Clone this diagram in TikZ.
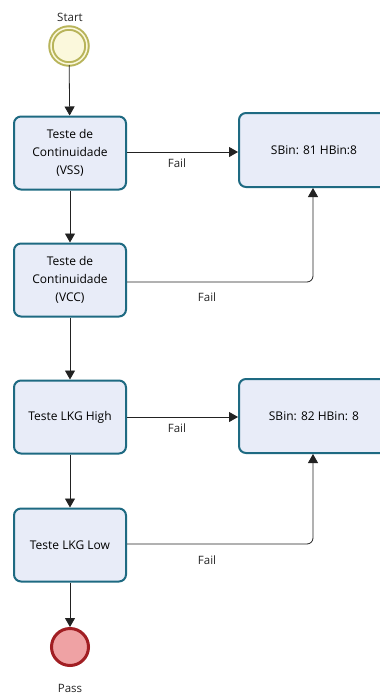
\documentclass[tikz,border=0pt]{standalone}
\usepackage{fontspec}
\setmainfont{Open Sans}
\usetikzlibrary{arrows.meta}
\definecolor{taskfill}{HTML}{E8ECF8}
\definecolor{taskline}{HTML}{1E6A82}
\definecolor{startfill}{HTML}{FBF8DC}
\definecolor{startline}{HTML}{B8B45A}
\definecolor{endfill}{HTML}{EFA2A4}
\definecolor{endline}{HTML}{A11E23}
\definecolor{flow}{HTML}{222222}
\begin{document}
\begin{tikzpicture}[x=1pt,y=-1pt,
  task/.style={draw=taskline,fill=taskfill,line width=2pt,rounded corners=7pt,
    minimum width=112pt,minimum height=73pt,align=center,font=\fontsize{12}{18}\selectfont,
    inner sep=0pt},
  bin/.style={task,minimum width=150pt,minimum height=74pt},
  flowline/.style={draw=flow,line width=0.8pt,-{Triangle[length=9pt,width=10pt]}},
  lbl/.style={font=\fontsize{11.5}{13}\selectfont,text=black!85}]
\useasboundingbox (0,0) rectangle (380,697);
\clip (0,0) rectangle (380,697);
\fill[white] (0,0) rectangle (380,697);

% start and end events
\node[circle,draw=startline,fill=startfill,line width=2pt,minimum size=36pt,inner sep=0pt,
  double=startfill,double distance=1.5pt] (start) at (69,46) {};
\node[lbl] (startlbl) at (70,17) {Start};
\node[circle,draw=endline,fill=endfill,line width=3pt,minimum size=37pt,inner sep=0pt] (pass) at (70,647) {};
\node[lbl] (passlbl) at (70,688) {Pass};

% tasks
\node[task] (vss) at (70,153) {Teste de\\Continuidade\\(VSS)};
\node[task] (vcc) at (70,280) {Teste de\\Continuidade\\(VCC)};
\node[task] (high) at (70,417) {Teste LKG High};
\node[task] (low) at (70,545) {Teste LKG Low};
\node[bin,anchor=west] (bin81) at (238,150) {SBin: 81 HBin:8};
\node[bin,anchor=west] (bin82) at (238,416) {SBin: 82 HBin: 8};

% sequence flows
\draw[flowline] (start) -- (vss);
\draw[flowline] (vss) -- (vcc);
\draw[flowline] (vcc) -- (high);
\draw[flowline] (high) -- (low);
\draw[flowline] (low) -- (pass);

\coordinate (c81) at (313,282);
\coordinate (c82) at (313,544);
\draw[flowline] (vss.east |- 0,152) -- (bin81.west |- 0,152) node[lbl,pos=0.45,below=3pt] {Fail};
\draw[flowline,rounded corners=6pt] (vcc.east |- c81) -- (c81) -- (c81 |- bin81.south);
\node[lbl] at (207,297) {Fail};
\draw[flowline] (high.east |- 0,417) -- (bin82.west |- 0,417) node[lbl,pos=0.45,below=3pt] {Fail};
\draw[flowline,rounded corners=6pt] (low.east |- c82) -- (c82) -- (c82 |- bin82.south);
\node[lbl] at (207,560) {Fail};
\end{tikzpicture}
\end{document}
